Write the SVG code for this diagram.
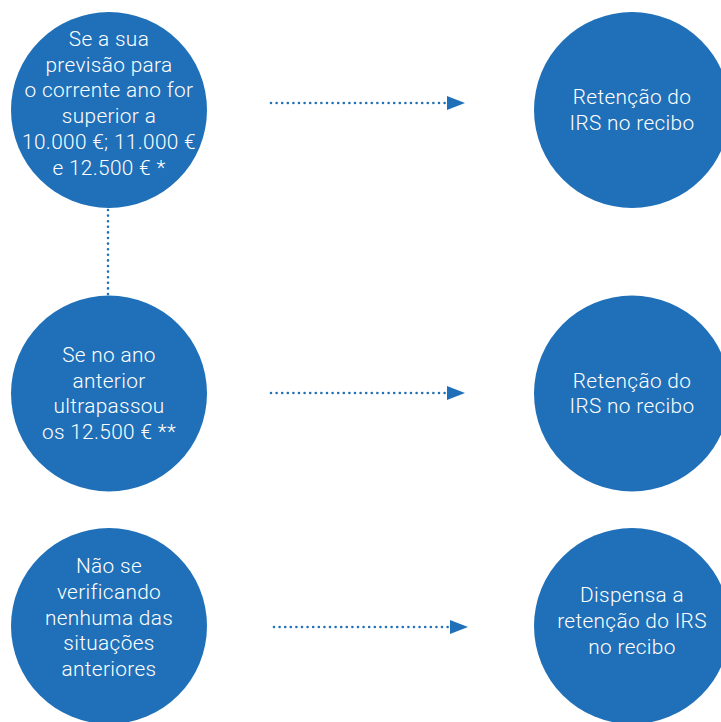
<svg xmlns="http://www.w3.org/2000/svg" width="721" height="722" viewBox="0 0 721 722">
<style>
.n{fill:#1F70B8}
.t{fill:#fff;font-family:Roboto,"Noto Sans",sans-serif;font-size:20.8px;font-weight:300;letter-spacing:0.35px;text-anchor:middle}
.c{stroke:#1F70B8;stroke-width:2.6;stroke-linecap:round;stroke-dasharray:0 5.6;fill:none}
.a{fill:#1F70B8}
</style>
<rect width="721" height="722" fill="#fff"/>
<g id="connectors">
<path class="c" d="M271,103 H447" />
<path class="a" d="M447,96 L465,103 L447,110 Z"/>
<path class="c" d="M271,393 H447" />
<path class="a" d="M447,386 L465,393 L447,400 Z"/>
<path class="c" d="M274,627 H450" />
<path class="a" d="M450,620 L468,627 L450,634 Z"/>
<path class="c" d="M108,210 V295" />
</g>
<g id="n1">
<circle class="n" cx="109" cy="110" r="98"/>
<text class="t"><tspan x="109" y="46">Se a sua</tspan><tspan x="109" y="71.5">previsão para</tspan><tspan x="109" y="97">o corrente ano for</tspan><tspan x="109" y="123">superior a</tspan><tspan x="109" y="148.5">10.000 €; 11.000 €</tspan><tspan x="109" y="174.5">e 12.500 € *</tspan></text>
</g>
<g id="n2">
<circle class="n" cx="109" cy="393.5" r="98"/>
<text class="t"><tspan x="109" y="362">Se no ano</tspan><tspan x="109" y="387.5">anterior</tspan><tspan x="109" y="413">ultrapassou</tspan><tspan x="109" y="438.5">os 12.500 € **</tspan></text>
</g>
<g id="n3">
<circle class="n" cx="109" cy="626" r="98"/>
<text class="t"><tspan x="109" y="573">Não se</tspan><tspan x="109" y="599">verificando</tspan><tspan x="109" y="624.5">nenhuma das</tspan><tspan x="109" y="650">situações</tspan><tspan x="109" y="675.5">anteriores</tspan></text>
</g>
<g id="n4">
<circle class="n" cx="632" cy="110" r="98"/>
<text class="t"><tspan x="632" y="104">Retenção do</tspan><tspan x="632" y="129.5">IRS no recibo</tspan></text>
</g>
<g id="n5">
<circle class="n" cx="632" cy="393.5" r="98"/>
<text class="t"><tspan x="632" y="387.5">Retenção do</tspan><tspan x="632" y="413">IRS no recibo</tspan></text>
</g>
<g id="n6">
<circle class="n" cx="632" cy="626" r="98"/>
<text class="t"><tspan x="632" y="602">Dispensa a</tspan><tspan x="632" y="628">retenção do IRS</tspan><tspan x="632" y="653.5">no recibo</tspan></text>
</g>
</svg>
